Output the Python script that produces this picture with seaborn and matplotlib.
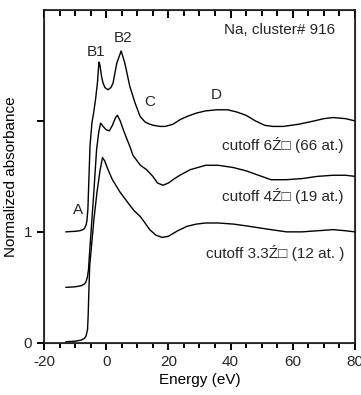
import matplotlib
matplotlib.use("Agg")
import matplotlib.pyplot as plt
import seaborn as sns
from matplotlib.ticker import MultipleLocator

# energies (eV) and normalized absorbance
e_66 = [-13, -10, -8.5, -7.5, -7, -6.5, -6.2, -5.9, -5.6, -5.2, -4.6, -4, -3.4,
        -2.8, -2.5, -2.3, -2, -1.5, -1, -0.4, 0.6, 1.5, 2.2, 3.4, 4.8, 6, 7.6,
        9.3, 10.9, 12.5, 14, 15.2, 17.3, 19, 21.5, 23.7, 26, 29, 32, 35.6, 39,
        42, 45, 48, 51, 53.6, 57, 62, 67, 70, 73, 77, 80]
a_66 = [1.0, 1.005, 1.01, 1.02, 1.03, 1.06, 1.1, 1.2, 1.45, 1.78, 1.98, 2.08, 2.2,
        2.35, 2.47, 2.53, 2.5, 2.4, 2.34, 2.3, 2.28, 2.3, 2.34, 2.52, 2.63, 2.52, 2.31,
        2.16, 2.04, 1.99, 1.97, 1.96, 1.95, 1.95, 1.97, 2.01, 2.04, 2.07, 2.09, 2.1, 2.1,
        2.08, 2.05, 2.0, 1.96, 1.95, 1.95, 1.97, 2.0, 2.02, 2.03, 2.02, 2.0]

e_19 = [-13, -10, -8, -7, -6.5, -6, -5.7, -5.5, -5, -4, -3.1, -2.4, -1.8, -1, 0,
        1.0, 2, 3, 3.6, 4.5, 5.5, 6.6, 7.6, 8.6, 11, 13, 15, 16.5, 18.3, 20, 22,
        23.7, 27, 32, 36, 40.8, 45, 49, 53, 58, 63, 68, 73, 77, 80]
a_19 = [0.5, 0.505, 0.515, 0.53, 0.55, 0.6, 0.66, 0.75, 0.95, 1.35, 1.74, 1.9, 1.98,
        1.95, 1.92, 1.91, 1.96, 2.03, 2.05, 2.0, 1.92, 1.84, 1.77, 1.69, 1.6, 1.56,
        1.5, 1.44, 1.42, 1.44, 1.48, 1.51, 1.56, 1.6, 1.6, 1.58, 1.55, 1.51, 1.47,
        1.47, 1.48, 1.5, 1.51, 1.51, 1.5]

e_12 = [-13, -10, -8, -7, -6.5, -6, -5.8, -5.6, -5.3, -4.8, -4, -3, -2, -1.2,
        -0.5, 0.6, 2, 4.4, 6, 7.6, 9, 10.9, 12.5, 14, 16, 18, 20, 23, 26, 29, 32,
        36, 41, 46, 53, 58, 63, 68, 73, 77, 80]
a_12 = [0.01, 0.015, 0.025, 0.04, 0.06, 0.12, 0.25, 0.45, 0.7, 0.85, 1.1, 1.35,
        1.55, 1.67, 1.64, 1.56, 1.47, 1.36, 1.3, 1.24, 1.19, 1.14, 1.08, 1.02,
        0.97, 0.95, 0.96, 1.01, 1.05, 1.07, 1.08, 1.08, 1.07, 1.05, 1.02, 1.0,
        1.0, 1.01, 1.02, 1.01, 1.0]

curve_labels = ["cutoff 6Ź\u25a1 (66 at.)", "cutoff 4Ź\u25a1 (19 at.)",
                "cutoff 3.3Ź\u25a1 (12 at. )"]
peak_names = ["A", "B1", "B2", "C", "D"]

sns.set_style("ticks")
plt.rcParams["font.family"] = ["Liberation Sans", "DejaVu Sans"]
plt.rcParams["font.size"] = 11
plt.rcParams["axes.unicode_minus"] = False

fig = plt.figure(figsize=(3.61, 3.95), dpi=100)
ax = fig.add_axes([0.122, 0.132, 0.861, 0.843])

for e, a in [(e_66, a_66), (e_19, a_19), (e_12, a_12)]:
    sns.lineplot(x=e, y=a, ax=ax, color="black", lw=1.0, sort=False, estimator=None)

ax.set_xlim(-20, 80)
ax.set_ylim(0, 3)
ax.set_xticks(range(-20, 81, 20))
ax.xaxis.set_minor_locator(MultipleLocator(5))
ax.set_yticks([0, 1, 2])
ax.set_yticklabels(["0", "1", ""])
ax.xaxis.set_tick_params(which="major", bottom=True, direction="out", length=5,
                         width=1.4, color="black", labelsize=11)
ax.xaxis.set_tick_params(which="minor", bottom=True, direction="out", length=3.5,
                         width=1.4, color="black")
ax.tick_params(axis="y", direction="out", length=5, width=1.4, color="black", labelsize=11)
for s in ax.spines.values():
    s.set_visible(True)
    s.set_linewidth(1.1)
    s.set_color("black")

# inward ticks on the top edge
top = ax.twiny()
top.set_xlim(ax.get_xlim())
top.set_xticks(range(-20, 81, 20))
top.xaxis.set_minor_locator(MultipleLocator(5))
top.xaxis.set_tick_params(which="major", top=True, direction="in", length=6,
                          width=1.4, color="black", labeltop=False)
top.xaxis.set_tick_params(which="minor", top=True, direction="in", length=4,
                          width=1.4, color="black")

ax.set_xlabel("Energy (eV)", fontsize=11, labelpad=3, color="black")
ax.set_ylabel("Normalized absorbance", fontsize=11, labelpad=4, color="black")

ax.text(73.6, 2.82, "Na, cluster# 916", ha="right", va="center", fontsize=11)
for name, x, y in zip(peak_names, [-9, -3.3, 5.4, 14.1, 35.3], [1.2, 2.62, 2.75, 2.17, 2.23]):
    ax.text(x, y, name, ha="center", va="center", fontsize=11)
for lab, y in zip(curve_labels, [1.78, 1.32, 0.81]):
    ax.text(76.5, y, lab, ha="right", va="center", fontsize=11)

fig.savefig("out.png", dpi=100)
plt.close(fig)
